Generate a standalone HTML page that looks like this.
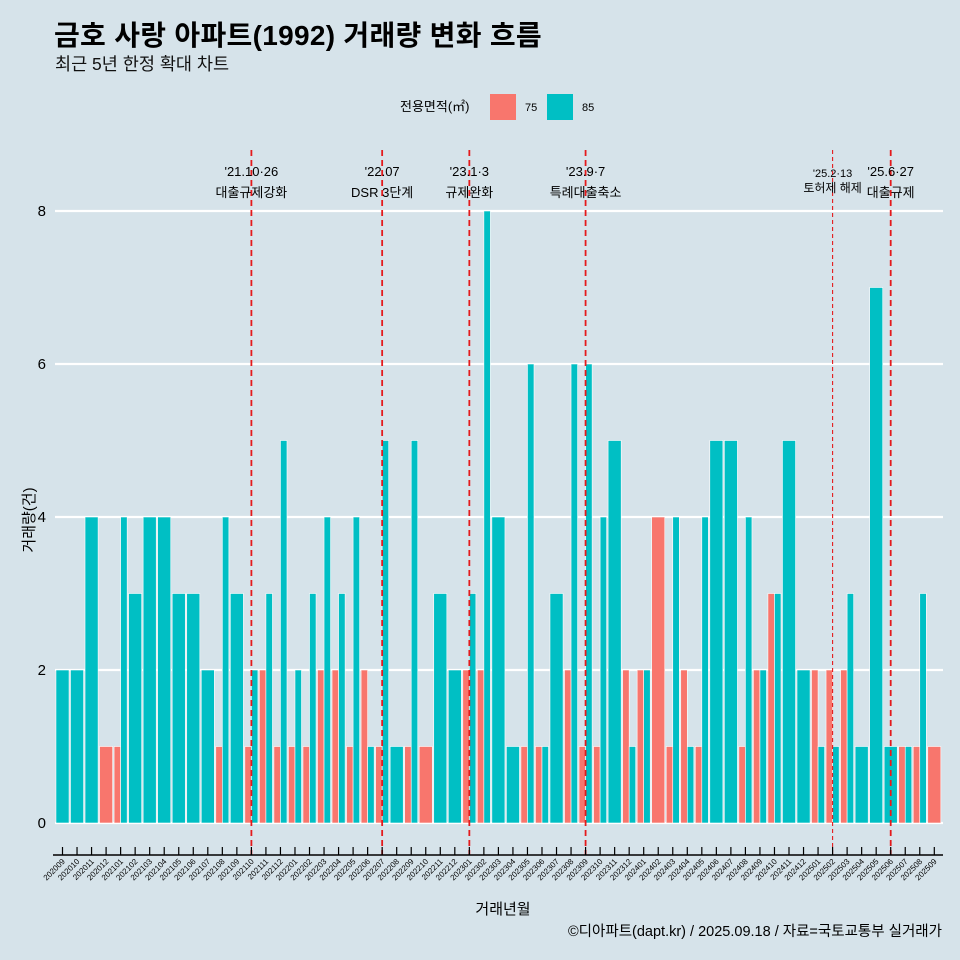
<!DOCTYPE html>
<html><head><meta charset="utf-8"><style>
body{margin:0;background:#d6e3ea;}
svg{display:block;font-family:"Liberation Sans","Noto Sans CJK KR",sans-serif;}
</style></head><body>
<svg id="chart" width="960" height="960">
<rect width="960" height="960" fill="#d6e3ea"/>
<text x="54" y="45" font-size="28" font-weight="bold" fill="#000" letter-spacing="0.3">금호 사랑 아파트(1992) 거래량 변화 흐름</text>
<text x="55" y="70" font-size="17.5" fill="#111">최근 5년 한정 확대 차트</text>
<g>
<text x="400" y="111" font-size="13">전용면적(㎡)</text>
<rect x="490" y="94" width="26" height="26" fill="#F8766D"/>
<text x="525" y="111" font-size="11">75</text>
<rect x="547" y="94" width="26" height="26" fill="#00BFC4"/>
<text x="582" y="111" font-size="11">85</text>
</g>
<g id="grid"></g><g id="bars"></g><g id="events"></g><g id="axes"></g>
<text x="503" y="914" font-size="15" text-anchor="middle">거래년월</text>
<text transform="translate(34,520) rotate(-90)" font-size="15" text-anchor="middle">거래량(건)</text>
<text x="942" y="936" font-size="14.5" text-anchor="end">©디아파트(dapt.kr) / 2025.09.18 / 자료=국토교통부 실거래가</text>
</svg>
<script>
const months=["202009","202010","202011","202012","202101","202102","202103","202104","202105","202106","202107","202108","202109","202110","202111","202112","202201","202202","202203","202204","202205","202206","202207","202208","202209","202210","202211","202212","202301","202302","202303","202304","202305","202306","202307","202308","202309","202310","202311","202312","202401","202402","202403","202404","202405","202406","202407","202408","202409","202410","202411","202412","202501","202502","202503","202504","202505","202506","202507","202508","202509"];
const s75=[0,0,0,1,1,0,0,0,0,0,0,1,0,1,2,1,1,1,2,2,1,2,1,0,1,1,0,0,2,2,0,0,1,1,0,2,1,1,0,2,2,4,1,2,1,0,0,1,2,3,0,0,2,2,2,0,0,0,1,1,1];
const s85=[2,2,4,0,4,3,4,4,3,3,2,4,3,2,3,5,2,3,4,3,4,1,5,1,5,0,3,2,3,8,4,1,6,1,3,6,6,4,5,1,2,0,4,1,4,5,5,4,2,3,5,2,1,1,3,1,7,1,1,3,0];
const yTicks=[0,2,4,6,8];
const events=[{m:"202110",d:"'21.10·26",t:"대출규제강화",small:false},{m:"202207",d:"'22.07",t:"DSR 3단계",small:false},{m:"202301",d:"'23.1·3",t:"규제완화",small:false},{m:"202309",d:"'23.9·7",t:"특례대출축소",small:false},{m:"202502",d:"'25.2·13",t:"토허제 해제",small:true},{m:"202506",d:"'25.6·27",t:"대출규제",small:false}];
const NS="http://www.w3.org/2000/svg";
const step=14.53, x0=62.5, y0=823, yU=76.5;
const X=i=>x0+step*i, Y=v=>y0-v*yU;
function mk(tag,attrs,parent,text){const e=document.createElementNS(NS,tag);for(const k in attrs)e.setAttribute(k,attrs[k]);if(text!=null)e.textContent=text;document.getElementById(parent).appendChild(e);return e;}
yTicks.forEach(v=>{
 const l=mk("line",{x1:55,x2:943,y1:Y(v),y2:Y(v),stroke:"#fff","stroke-width":2.2},"grid");
 
 
 const t=mk("text",{x:46,y:Y(v)+5,"font-size":15,"text-anchor":"end"},"axes",v);
 
 
});
const W=step*0.9;
months.forEach((m,i)=>{
 const a=s75[i],b=s85[i],both=a>0&&b>0;
 const cx=X(i);
 if(a>0){const r=mk("rect",{x:cx-W/2,y:Y(a),width:both?W/2:W,height:a*yU,fill:"#F8766D",stroke:"#fff","stroke-width":0.6},"bars");
  
  }
 if(b>0){const r=mk("rect",{x:both?cx:cx-W/2,y:Y(b),width:both?W/2:W,height:b*yU,fill:"#00BFC4",stroke:"#fff","stroke-width":0.6},"bars");
  
  }
 const tk=mk("line",{x1:cx,x2:cx,y1:847,y2:855,stroke:"#000","stroke-width":1.2},"axes");
 
 
 const tl=mk("text",{transform:`translate(${cx+3},${862}) rotate(-45)`,"font-size":8,"text-anchor":"end"},"axes",m);
 
 
});
const ax=mk("line",{x1:53,x2:943,y1:855,y2:855,stroke:"#000","stroke-width":1.5},"axes");


events.forEach(ev=>{
 const i=months.indexOf(ev.m),cx=X(i);
 const l=mk("line",{x1:cx,x2:cx,y1:150,y2:855,stroke:"#e41a1c","stroke-width":ev.small?1.1:1.8,"stroke-dasharray":ev.small?"4,3":"6,4"},"events");
 
 
 const d=mk("text",{x:cx,y:ev.small?177:176,"font-size":ev.small?11:13,"text-anchor":"middle"},"events",ev.d);
 
 
 const t=mk("text",{x:cx,y:ev.small?192:197,"font-size":ev.small?12:13,"text-anchor":"middle"},"events",ev.t);
 
 
});
</script>
</body></html>
